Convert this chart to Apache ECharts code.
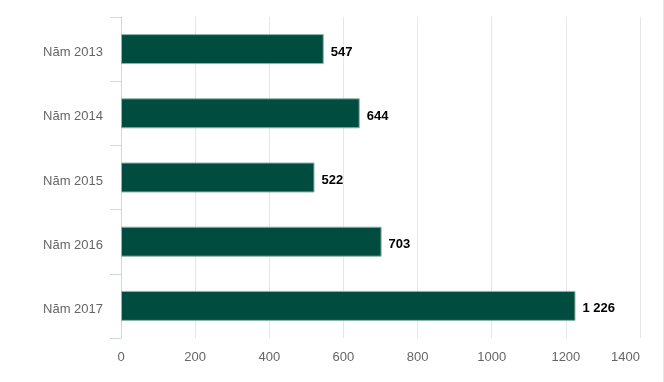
<!DOCTYPE html>
<html>
<head>
<meta charset="utf-8">
<script src="https://cdn.jsdelivr.net/npm/echarts@6/dist/echarts.min.js"></script>
<style>
html,body{margin:0;padding:0;background:#fff;}
#c{width:664px;height:382px;}
</style>
</head>
<body>
<div id="c"></div>
<script>
var categories = ['Năm 2013', 'Năm 2014', 'Năm 2015', 'Năm 2016', 'Năm 2017'];
var values = [547, 644, 522, 703, 1226];
var xTicks = [0, 200, 400, 600, 800, 1000, 1200, 1400];

function fmt(v) {
  return String(v).replace(/\B(?=(\d{3})+(?!\d))/g, ' ');
}

var chart = echarts.init(document.getElementById('c'), null, {renderer: 'canvas'});
chart.setOption({
  animation: false,
  backgroundColor: '#ffffff',
  textStyle: {fontFamily: 'Liberation Sans, Arial, sans-serif'},
  grid: {left: 121, right: 24, top: 17, bottom: 44, containLabel: false},
  xAxis: {
    type: 'value',
    min: xTicks[0],
    max: xTicks[xTicks.length - 1],
    interval: 200,
    axisLine: {show: false},
    axisTick: {show: false},
    splitLine: {show: true, lineStyle: {color: '#e6e6e6', width: 1}},
    axisLabel: {
      color: '#666666', fontSize: 13, margin: 13,
      fontFamily: 'Liberation Sans, Arial, sans-serif',
      alignMaxLabel: 'right',
      formatter: function (v) { return String(v); }
    }
  },
  yAxis: {
    type: 'category',
    data: categories,
    inverse: true,
    axisLine: {show: true, lineStyle: {color: '#ccd6eb', width: 1}},
    axisTick: {show: true, length: 11, lineStyle: {color: '#ccd6eb', width: 1}},
    splitLine: {show: false},
    axisLabel: {
      margin: 18,
      formatter: function (v) { return '{a|' + v + '}'; },
      rich: {a: {color: '#666666', fontSize: 13, padding: [7, 0, 0, 0], fontFamily: 'Liberation Sans, Arial, sans-serif'}}
    }
  },
  series: [{
    type: 'bar',
    data: values,
    barWidth: 30,
    itemStyle: {color: '#004d40', borderColor: '#8fb3a8', borderWidth: 1},
    label: {
      show: true,
      position: 'right',
      distance: 7,
      offset: [0, 3],
      color: '#000000',
      fontSize: 13,
      fontWeight: 'bold',
      fontFamily: 'Liberation Sans, Arial, sans-serif',
      textBorderColor: '#ffffff',
      textBorderWidth: 1,
      formatter: function (p) { return fmt(p.value); }
    }
  }],
  graphic: [{
    type: 'line',
    shape: {x1: 663.5, y1: 0, x2: 663.5, y2: 382},
    style: {stroke: '#e6e6e6', lineWidth: 1},
    silent: true
  }]
});
</script>
</body>
</html>
